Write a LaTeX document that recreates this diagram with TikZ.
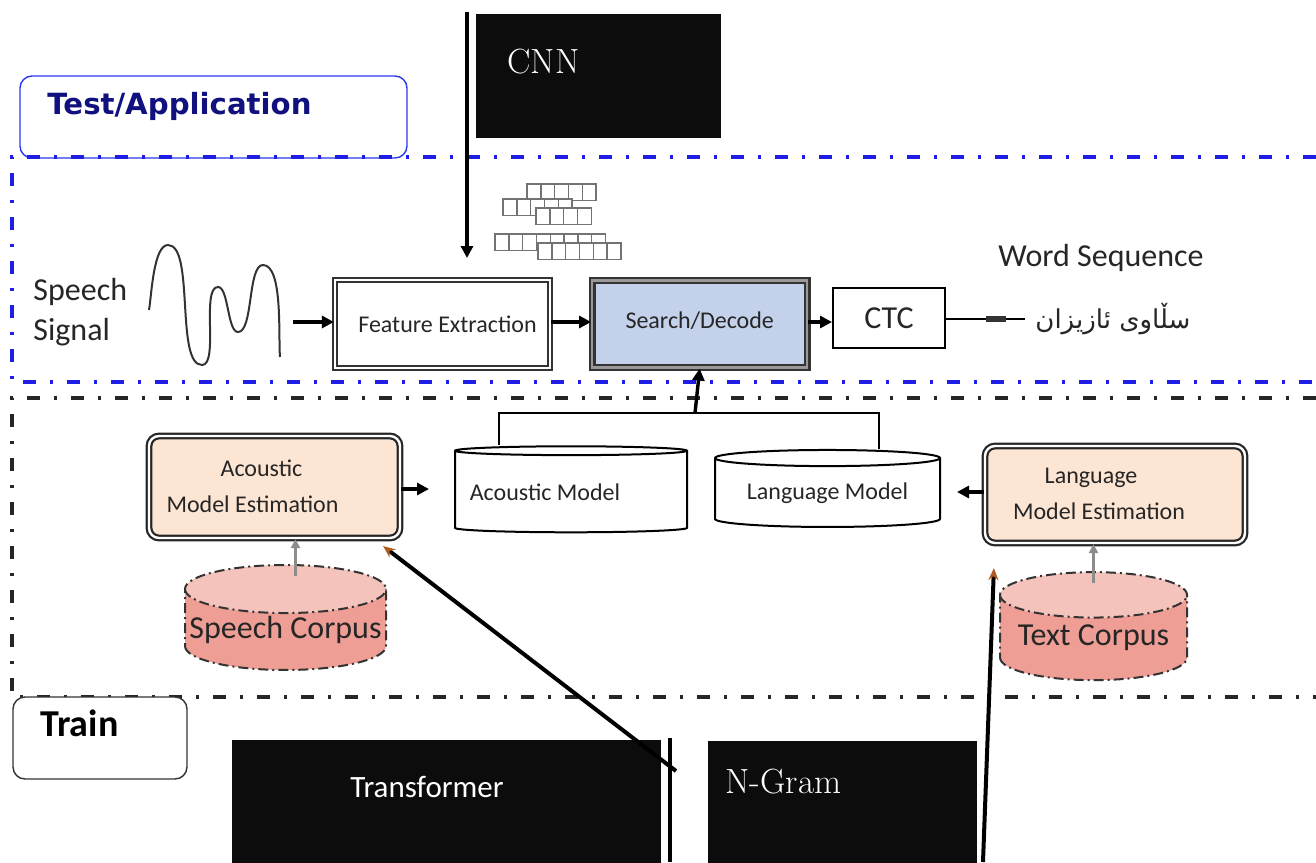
\documentclass[tikz,border=0pt]{standalone}
\usepackage{fontspec}
\usetikzlibrary{arrows.meta,shapes.geometric,positioning,calc}
\newfontfamily\carlito{Carlito}
\newfontfamily\dejavu{DejaVu Sans}
\newfontfamily\arabicfont[Script=Arabic]{DejaVu Sans}
\TeXXeTstate=1
\definecolor{navy}{HTML}{10107E}
\definecolor{appblue}{HTML}{2A3AF0}
\definecolor{ddblue}{HTML}{1E1EE6}
\definecolor{sdblue}{HTML}{C3D1EA}
\definecolor{peach}{HTML}{FDE5D4}
\definecolor{salmon}{HTML}{EE9E95}
\definecolor{salmonlt}{HTML}{F4C3BC}
\definecolor{nearblack}{HTML}{0C0C0C}
\definecolor{arrtip}{HTML}{B05A1E}
\begin{document}
\begin{tikzpicture}
		[x=0.5pt,y=-0.5pt,
		every node/.style={inner sep=0pt},
		lbl/.style={font=\carlito\fontsize{12}{18}\selectfont,text=black!85},
		big/.style={font=\carlito\fontsize{16}{20}\selectfont,text=black!85},
		dbox/.style={draw=black!80,double=white,double distance=1.2pt,line width=1.1pt},
		est/.style={dbox,draw=black!85,rounded corners=5pt,fill=peach,align=center,lbl},
		blackbox/.style={fill=nearblack,draw=nearblack},
		whitetxt/.style={text=white},
		model/.style={cylinder,shape border rotate=90,draw,line width=1pt,fill=white,lbl},
		corpus/.style={cylinder,shape border rotate=90,draw=black!80,line width=1pt,dash pattern=on 5pt off 2pt on 1pt off 2pt,
			cylinder uses custom fill,cylinder body fill=salmon,cylinder end fill=salmonlt,big},
		arr/.style={line width=1.7pt,-{Triangle[length=6pt,width=6pt]}},
		grayarr/.style={draw=black!45,line width=1.4pt,-{Triangle[length=4.5pt,width=4.5pt]}},
		longarr/.style={line width=2pt,-{Stealth[length=6pt,width=5pt,color=arrtip]}},
		bluedd/.style={draw=ddblue,line width=1.8pt,dash pattern=on 6.5pt off 7pt on 1.5pt off 7pt},
		blackdd/.style={draw=black!85,line width=1.8pt,dash pattern=on 6.5pt off 7pt on 1.5pt off 7pt},
		cell/.style={draw=black!55,fill=white,line width=0.7pt}]
		\useasboundingbox (0,0) rectangle (1316,862);
		% frames
		\node(test)[draw=appblue,rounded corners=6pt,line width=0.7pt,minimum width=193.5pt,minimum height=41pt] at(213.5,117){};
		\node(testlbl)[anchor=west,font=\dejavu\bfseries\fontsize{14.6}{17}\selectfont,text=navy] at(47,106){Test/Application};
		\draw[bluedd](1316,157)--(12,157)--(12,382)--(1316,382);
		\draw[blackdd](1316,398)--(12,398)--(12,697)--(1316,697);
		\node(train)[draw=black!80,rounded corners=6pt,line width=0.7pt,fill=white,minimum width=87pt,minimum height=41pt] at(100,738){};
		\node(trainlbl)[anchor=west,font=\carlito\bfseries\fontsize{19}{22}\selectfont] at(40,723){Train};
		% top row
		\node(cnn)[blackbox,minimum width=122pt,minimum height=61.5pt] at(598,75.5){};
		\node(cnnlbl)[whitetxt,anchor=west,font=\fontsize{17.5}{20}\selectfont] at(507,62){CNN};
		\coordinate(cnnin) at(467,12);
		\coordinate(cnnout) at(467,258);
		\draw[arr](cnnin)--(cnnout);
		\foreach \x/\y/\n in {527/184/5,503/199/5,536/208/4,495/234/8,538/243/6}
			\foreach \i in {1,...,\n}
				\draw[cell]({\x+(\i-1)*13.8},\y) rectangle ++(13.8,16.5);
		\node(signal)[big,align=left,anchor=west] at(33,312){Speech\\Signal};
		\draw[black!80,line width=1pt,looseness=0.55](149,310) to[out=80,in=180](168,245) to[out=0,in=180](202,365)
			to[out=0,in=180](218,287) to[out=0,in=180](238,332) to[out=0,in=180](263,265) to[out=0,in=95](280,357);
		\node(fe)[dbox,lbl,minimum width=107.5pt,minimum height=44pt] at(442.5,324){\hspace{5pt}Feature Extraction};
		\node(sd)[dbox,double=black!40,fill=sdblue,lbl,minimum width=107.5pt,minimum height=43.5pt,right=20pt of fe]{\raisebox{3.5pt}{Search/Decode}};
		\node(ctc)[draw,line width=1pt,big,minimum width=56pt,minimum height=30pt] at(889,318){\raisebox{-2pt}{CTC}};
		\node(ws)[anchor=west,font=\arabicfont\fontsize{13}{16}\selectfont,text=black!85,inner xsep=5pt] at(1025,319){\beginR سڵاوی ئازیزان\endR};
		\node(wslbl)[big] at(1101,258){Word Sequence};
		\coordinate(sigout) at(293,322);
		\draw[arr](sigout)--(sigout-|fe.west);
		\draw[arr](fe.east|-sigout)--(sigout-|sd.west);
		\draw[arr](sd.east|-sigout)--(sigout-|ctc.west);
		\draw[line width=0.9pt](ctc.east|-ws.west)--(ws.west);
		\draw[line width=2.6pt,black!80]([xshift=20pt]ctc.east|-ws.west)--([xshift=30pt]ctc.east|-ws.west);
		% training part
		\node(ame)[est,minimum width=125.5pt,minimum height=51pt] at(274.5,487){\hspace{-22pt}\raisebox{7pt}{\begin{tabular}{@{}c@{}}\hspace{9pt}Acoustic\\Model Estimation\end{tabular}}};
		\node(lme)[est,minimum width=130pt,minimum height=48.5pt] at(1115,494.5){\hspace{-16pt}\raisebox{1pt}{\begin{tabular}{@{}c@{}}\hspace{-8pt}Language\\Model Estimation\end{tabular}}};
		\node(am)[model,aspect=0.09,minimum width=116pt,minimum height=43pt] at(571,492){\hspace{-26pt}Acoustic Model};
		\node(lm)[model,aspect=0.1,minimum width=112.5pt,minimum height=38.5pt] at(827.5,493){Language Model};
		\node(spc)[corpus,aspect=0.25,minimum width=100.5pt,minimum height=52.5pt] at(285.5,630){Speech Corpus};
		\node(tc)[corpus,aspect=0.3,minimum width=93.5pt,minimum height=54pt] at(1093.5,638){Text Corpus};
		\coordinate(join) at(695,413);
		\draw[line width=1.2pt]([xshift=-36pt]am.north)|-(join)-|([xshift=25.75pt]lm.north);
		\draw[arr](join)--(sd.south);
		\coordinate(amin) at(429,489);
		\coordinate(lmin) at(957,492);
		\draw[arr](ame.east|-amin)--(amin);
		\draw[arr](lme.west|-lmin)--(lmin);
		\draw[grayarr]([xshift=5pt,yshift=-6pt]spc.north)--([xshift=5pt]spc.north|-ame.south);
		\draw[grayarr]([yshift=-6pt]tc.north)--(tc.north|-lme.south);
		% bottom boxes
		\node(trans)[blackbox,minimum width=214pt,minimum height=61pt] at(446,801){};
		\node(translbl)[whitetxt,font=\carlito\fontsize{15.5}{18}\selectfont] at(427,787){Transformer};
		\node(ngram)[blackbox,minimum width=134pt,minimum height=60.5pt] at(842,801.5){};
		\node(ngramlbl)[whitetxt,anchor=west,font=\fontsize{17.5}{20}\selectfont] at(725,782){N-Gram};
		\coordinate(vtop) at(670,738);
		\coordinate(vbot) at(670,862);
		\draw[line width=1.6pt](vtop)--(vbot);
		\coordinate(trout) at(676,771);
		\draw[longarr](trout)--([xshift=-9pt,yshift=-3.5pt]ame.south east);
		\coordinate(ngout) at(983,862);
		\draw[longarr](ngout)--([xshift=5pt,yshift=-12pt]lme.south west);
	\end{tikzpicture}
\end{document}
